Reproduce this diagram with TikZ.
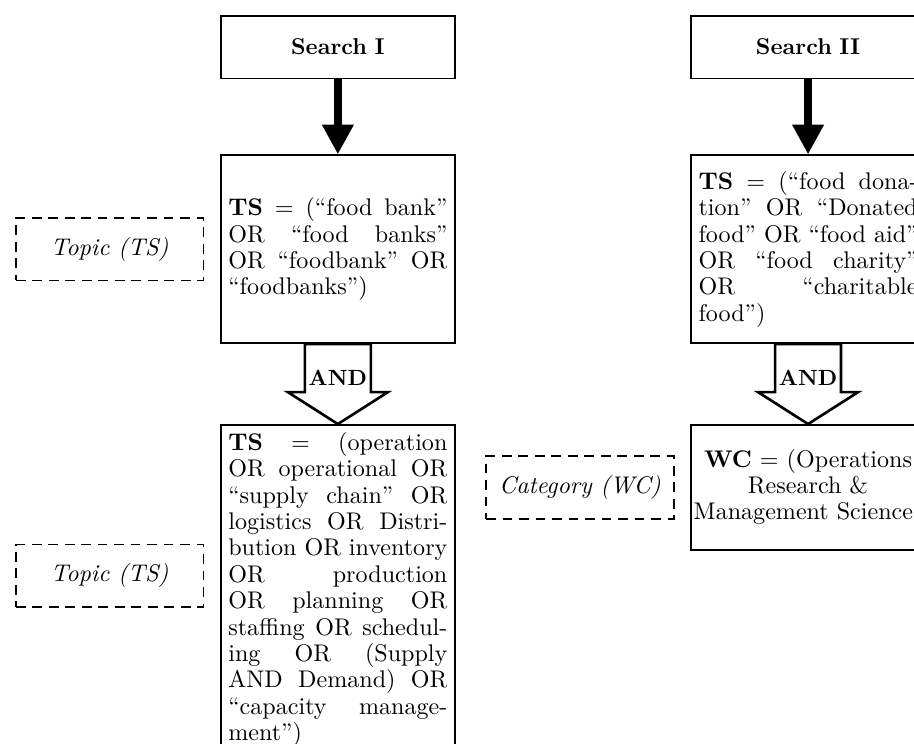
\documentclass[tikz,border=0pt]{standalone}
\usepackage{fontspec}
\usepackage{amsmath,amssymb}
\usepackage{xcolor}
\usepackage{tikz}
\usetikzlibrary{positioning, calc, arrows.meta}

\newcommand{\figfont}{\fontsize{10.95}{12}\selectfont}

\begin{document}
\begin{tikzpicture}[node distance=1.2cm,
  headbox/.style={draw, thick, rectangle, text width=3.5cm, align=center, minimum height=1cm, font=\fontsize{10.4}{12}\selectfont\bfseries},
  querybox/.style={draw, thick, rectangle, text width=3.5cm, align=justify, minimum height=3cm, font=\figfont},
  tagbox/.style={draw, thick, dash pattern=on 4.5pt off 3pt, rectangle, minimum width=3cm, minimum height=1cm, font=\figfont\itshape},
  bigarrow/.style={line width=3.5pt, -{Triangle[length=13.5pt, width=13.5pt]}},
  andarrow/.style={draw, very thick, fill=white}]

  % search I
  \node (search1) [headbox] at (0,0) {Search I};
  \node (ts1) [querybox, below=of search1] {
    \textbf{TS} = (``food bank''\linebreak OR ``food banks''\linebreak OR ``foodbank'' OR\linebreak ``foodbanks'')
  };
  \node (ts2) [querybox, below=1.28cm of ts1, minimum height=1cm] {
    \textbf{TS} = (operation\linebreak OR operational OR\linebreak ``supply chain'' OR\linebreak logistics OR Distri-\linebreak bution OR inventory\linebreak OR production\linebreak OR planning OR\linebreak staffing OR schedul-\linebreak ing OR (Supply\linebreak AND Demand) OR\linebreak ``capacity manage-\linebreak ment'')
  };
  \node (topic1) [tagbox, left=0.25cm of ts1] {Topic (TS)};
  \node (topic2) [tagbox, left=0.25cm of ts2.north west, yshift=-69pt] {Topic (TS)};

  % search II
  \node (search2) [headbox, right=3.75cm of search1] {Search II};
  \node (tsr) [querybox, below=of search2] {
    \textbf{TS} = (``food dona-\linebreak tion'' OR ``Donated\linebreak food'' OR ``food aid''\linebreak OR ``food charity''\linebreak OR ``charitable\linebreak food'')
  };
  \node (wc) [querybox, align=flush center, minimum height=2cm, below=1.28cm of tsr] {
    \textbf{WC} = (Operations\\ Research \&\\ \makebox[\hsize]{Management Science)}
  };
  \node (category) [tagbox, left=0.25cm of wc] {Category (WC)};

  \draw [bigarrow] (search1) -- (ts1);
  \draw [bigarrow] (search2) -- (tsr);

  \draw [andarrow] (ts2.north) -- ++(22.7pt,14.5pt) -- ++(-7.7pt,0) |- ($(ts1.south)+(-15pt,0)$) |- ($(ts2.north)+(-22.7pt,14.5pt)$) -- cycle;
  \node (and1) [font=\fontsize{10}{12}\selectfont\bfseries] at ($(ts1.south)!0.42!(ts2.north)$) {AND};
  \draw [andarrow] (wc.north) -- ++(22.7pt,14.5pt) -- ++(-7.7pt,0) |- ($(tsr.south)+(-15pt,0)$) |- ($(wc.north)+(-22.7pt,14.5pt)$) -- cycle;
  \node (and2) [font=\fontsize{10}{12}\selectfont\bfseries] at ($(tsr.south)!0.42!(wc.north)$) {AND};

  \pgfresetboundingbox
  \path [use as bounding box] ($(topic1.west |- search1.north)+(-6.8pt,6.8pt)$) rectangle ++(415.5pt,-338.2pt);
\end{tikzpicture}
\end{document}
